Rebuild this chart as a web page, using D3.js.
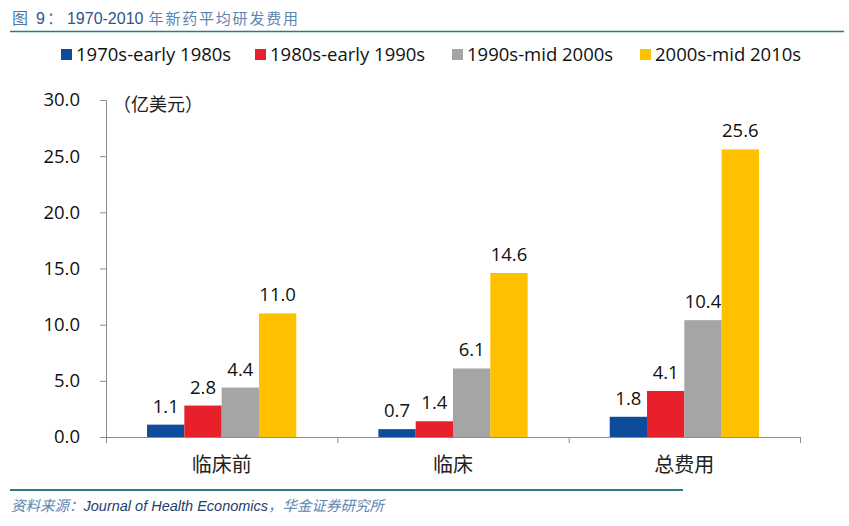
<!DOCTYPE html>
<html><head><meta charset="utf-8">
<script src="https://cdn.jsdelivr.net/npm/d3@7"></script>
<style>
body{margin:0;background:#fff;}
svg{display:block;}
</style></head>
<body>
<svg id="c" width="849" height="526"></svg>
<script>
const categories = ["临床前", "临床", "总费用"];
const seriesNames = ["1970s-early 1980s", "1980s-early 1990s", "1990s-mid 2000s", "2000s-mid 2010s"];
const s1970 = [1.1, 0.7, 1.8];
const s1980 = [2.8, 1.4, 4.1];
const s1990 = [4.4, 6.1, 10.4];
const s2000 = [11.0, 14.6, 25.6];
const yTicks = [0, 5, 10, 15, 20, 25, 30];
const colors = ["#0E4C9B", "#E8202B", "#A5A5A5", "#FFC000"];

const seriesValues = [s1970, s1980, s1990, s2000];
const svg = d3.select("#c");
const numFont = "'Open Sans', Lato, sans-serif";
const cjkFont = "'Noto Sans CJK SC', sans-serif";

// Title
const tt = svg.append("text").attr("x", 12).attr("y", 24).attr("font-size", 16);
tt.append("tspan").attr("font-family", cjkFont).attr("fill", "#4A78A8").text("图");
tt.append("tspan").attr("dx", 8).attr("font-family", "'Liberation Sans', Arial, sans-serif").attr("fill", "#2E5587").text("9");
tt.append("tspan").attr("dx", 2).attr("font-family", cjkFont).attr("fill", "#4A78A8").text("：");
tt.append("tspan").attr("dx", 4).attr("font-family", "'Liberation Sans', Arial, sans-serif").attr("fill", "#2E5587").text("1970-2010");
tt.append("tspan").attr("font-family", cjkFont).attr("font-size", 15).attr("letter-spacing", 1.8).attr("fill", "#5B84B1").text(" 年新药平均研发费用");
svg.append("line").attr("x1", 10).attr("x2", 844).attr("y1", 31.5).attr("y2", 31.5)
  .attr("stroke", "#2D7A8A").attr("stroke-width", 1.5);

// Legend
const legX = [61, 255, 452, 640];
const lg = svg.append("g");
seriesNames.forEach((n, i) => {
  lg.append("rect").attr("x", legX[i]).attr("y", 49).attr("width", 11).attr("height", 11).attr("fill", colors[i]);
  lg.append("text").attr("x", legX[i] + 15).attr("y", 61)
    .attr("font-family", numFont).attr("font-size", 18.5).attr("fill", "#111").text(n);
});

// Scales
const x0 = d3.scaleBand().domain(categories).range([106, 800]).padding(0);
const x1 = d3.scaleBand().domain(d3.range(seriesNames.length)).range([0, x0.bandwidth()]).paddingInner(0).paddingOuter(1.1);
const y = d3.scaleLinear().domain([0, 30]).range([437, 100]);

// Y axis
const yAxis = d3.axisLeft(y).tickValues(yTicks).tickFormat(d3.format(".1f")).tickSize(6).tickPadding(20);
const ya = svg.append("g").attr("transform", "translate(106,0)").call(yAxis);
ya.select(".domain").attr("stroke", "#8C8C8C");
ya.selectAll(".tick line").attr("stroke", "#8C8C8C");
ya.selectAll(".tick text").attr("font-family", numFont).attr("font-size", 18.5).attr("fill", "#111");

// X axis
const xa = svg.append("g").attr("transform", "translate(0,437)");
xa.append("line").attr("x1", 106).attr("x2", 800).attr("y1", 0.5).attr("y2", 0.5).attr("stroke", "#8C8C8C");
const bounds = categories.map(c => x0(c)).concat([x0.range()[1]]);
bounds.forEach(b => xa.append("line").attr("x1", b + 0.5).attr("x2", b + 0.5).attr("y1", 0).attr("y2", 6).attr("stroke", "#8C8C8C"));
categories.forEach(c => xa.append("text").attr("x", x0(c) + x0.bandwidth() / 2).attr("y", 35)
  .attr("text-anchor", "middle").attr("font-family", cjkFont).attr("font-size", 20).attr("fill", "#222").text(c));

// Unit label
svg.append("text").attr("x", 113).attr("y", 111).attr("font-family", cjkFont).attr("font-size", 18).attr("fill", "#222").text("（亿美元）");

// Bars
categories.forEach((c, ci) => {
  seriesValues.forEach((vals, si) => {
    const v = vals[ci];
    const bx = x0(c) + x1(si);
    svg.append("rect").attr("x", bx).attr("y", y(v)).attr("width", x1.bandwidth()).attr("height", y(0) - y(v)).attr("fill", colors[si]);
    svg.append("text").attr("x", bx + x1.bandwidth() / 2).attr("y", y(v) - 12)
      .attr("text-anchor", "middle").attr("font-family", numFont).attr("font-size", 18.5).attr("fill", "#111")
      .text(d3.format(".1f")(v));
  });
});

// Footer
svg.append("line").attr("x1", 10).attr("x2", 683).attr("y1", 490).attr("y2", 490).attr("stroke", "#2D7A8A").attr("stroke-width", 2);
const ft = svg.append("text").attr("x", 11).attr("y", 511).attr("font-size", 14.5).attr("font-style", "italic");
ft.append("tspan").attr("font-family", cjkFont).attr("fill", "#5B84B1").text("资料来源：");
ft.append("tspan").attr("font-family", "'Liberation Sans', Arial, sans-serif").attr("fill", "#1F3F6E").text("Journal of Health Economics");
ft.append("tspan").attr("font-family", cjkFont).attr("fill", "#5B84B1").text("，华金证券研究所");
</script>
</body></html>
